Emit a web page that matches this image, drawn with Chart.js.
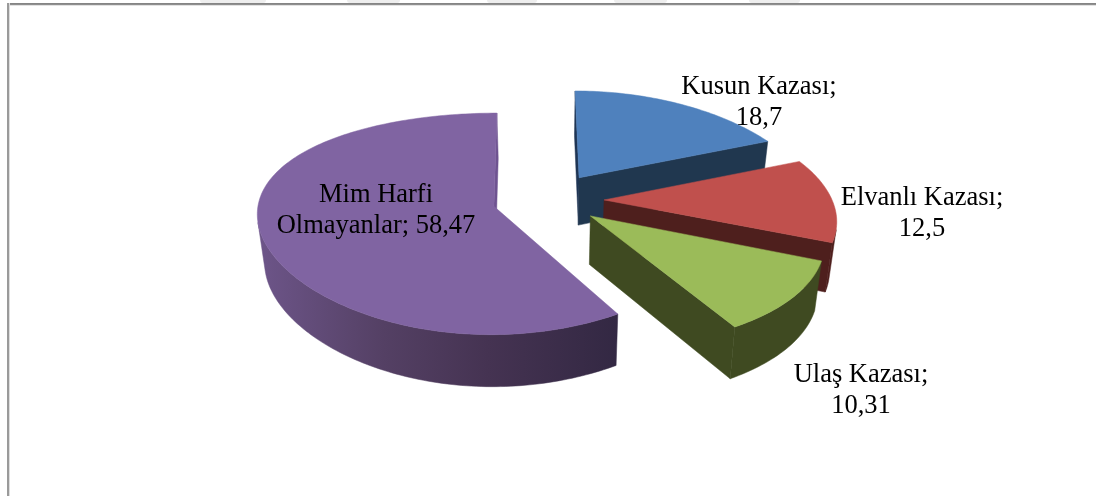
<!DOCTYPE html>
<html><head><meta charset="utf-8">
<style>
html,body{margin:0;padding:0;background:#fff;width:1096px;height:496px;overflow:hidden}
#wrap{position:relative;width:1096px;height:496px}
canvas{position:absolute;left:0;top:0}
.frameTop{position:absolute;left:7px;top:3px;width:1089px;height:1px;background:#858585;box-shadow:0 1px 0 #8f8f8f,0 2px 0 #e2e2e2}
.frameLeft{position:absolute;left:7px;top:3px;width:2px;height:493px;background:#9a9a9a;box-shadow:1px 0 0 #dedede}
.blob{position:absolute;top:0;height:3px;background:#eeeeee;border-radius:0 0 8px 8px}
</style></head>
<body>
<div id="wrap">
<div class="blob" style="left:200px;width:66px"></div>
<div class="blob" style="left:347px;width:53px"></div>
<div class="blob" style="left:487px;width:50px"></div>
<div class="blob" style="left:614px;width:53px"></div>
<div class="blob" style="left:749px;width:51px"></div>
<div class="frameTop"></div><div class="frameLeft"></div>
<canvas id="c" width="1096" height="496"></canvas>
</div>
<script src="https://cdn.jsdelivr.net/npm/chart.js@4/dist/chart.umd.js"></script>
<script>
const categories = ["Kusun Kazası", "Elvanlı Kazası", "Ulaş Kazası", "Mim Harfi Olmayanlar"];
const values = [18.7, 12.5, 10.31, 58.47];
const topColors = ["#4F81BD", "#C0504D", "#9BBB59", "#8064A2"];
const wallColors = ["#20374F", "#4E1F1D", "#3F4A21", "#352945"];
const sideColors = ["#1E3554", "#4E1F1D", "#3F4A21", "#6E5390"];
const explode = [50, 50, 50, 50];
// label centre x, first baseline y, wrap width
const labelSpots = [[759, 94, 175], [922, 205, 180], [861, 382, 160], [376, 202, 210]];

// tilted view of the pie plane
const P = {xc: 548, Ae: 250, y0: 200, B: 106, g: 0.157};
const rimGain = [226, 228, 228, 236];     // horizontal radius per slice
const rimPersp = [0.25, 0.2, 0.23, 0.06]; // foreshortening of that radius
const rimShear = [-0.0175, 0, 0, 0.0126];
const sliceLift = [-3, 0, 0, 0];
function projY(Y) { return P.y0 - P.B * Y / (1 + P.g * Y); }
function lower(p) { return [550 + (p[0] - 550) * 0.975, p[1] + 42 + 0.03 * p[1]]; }
function poly(ctx, pts, fill) {
  ctx.beginPath();
  pts.forEach((p, i) => i ? ctx.lineTo(p[0], p[1]) : ctx.moveTo(p[0], p[1]));
  ctx.closePath();
  ctx.fillStyle = fill; ctx.strokeStyle = fill; ctx.lineWidth = 0.5;
  ctx.fill(); ctx.stroke();
}
function area(q) {
  let s = 0;
  for (let i = 0; i < q.length; i++) { const a = q[i], b = q[(i + 1) % q.length]; s += a[0] * b[1] - b[0] * a[1]; }
  return s / 2;
}

// Arc elements keep the library's angles, radius and offset; only the painting is tilted.
Chart.ArcElement.prototype.draw = function (ctx) {
  const i = this.$context.dataIndex, r = this.outerRadius, e = this.options.offset / r;
  const a0 = this.startAngle, a1 = this.endAngle, mid = (a0 + a1) / 2;
  const ox = e * Math.cos(mid), oy = -e * Math.sin(mid);
  const ax = P.xc + P.Ae * ox, lift = sliceLift[i];
  const apex = [ax, projY(oy) + lift], rim = [];
  const n = Math.max(8, Math.ceil((a1 - a0) / 0.02));
  for (let k = 0; k <= n; k++) {
    const a = a0 + (a1 - a0) * k / n, dX = Math.cos(a), dY = -Math.sin(a);
    rim.push([ax + rimGain[i] * (dX / (1 + rimPersp[i] * dY) + rimShear[i] * dY), projY(oy + dY) + lift]);
  }
  const low = rim.map(lower), apexLow = lower(apex);
  let wall = wallColors[i];
  if (i === 3) {
    wall = ctx.createLinearGradient(258, 0, 617, 0);
    wall.addColorStop(0, "#6D5589");
    wall.addColorStop(0.35, "#544064");
    wall.addColorStop(0.64, "#453352");
    wall.addColorStop(1, "#332843");
  }
  // side faces, skipping those that look away from the viewer
  const q0 = [apex, rim[0], low[0], apexLow];
  const q1 = [rim[n], apex, apexLow, low[n]];
  if (area(q0) < 0) poly(ctx, q0, sideColors[i]);
  if (area(q1) < 0) poly(ctx, q1, i === 3 ? sideColors[i] : wallColors[i]);
  let run = null;
  const flush = (end) => {
    if (run !== null) {
      const up = rim.slice(run, end + 1), dn = low.slice(run, end + 1).reverse();
      poly(ctx, up.concat(dn), wall);
    }
    run = null;
  };
  for (let k = 0; k < n; k++) {
    const front = area([rim[k], rim[k + 1], low[k + 1], low[k]]) < 0;
    if (front && run === null) run = k;
    if (!front) flush(k);
  }
  flush(n);
  poly(ctx, [apex].concat(rim), this.options.backgroundColor);
};

const labelPlugin = {
  id: "sliceLabels",
  afterDraw(chart) {
    const ctx = chart.ctx;
    ctx.save();
    ctx.font = "26.5px 'Liberation Serif'";
    ctx.fillStyle = "#000";
    ctx.textAlign = "center";
    ctx.textBaseline = "alphabetic";
    categories.forEach((cat, i) => {
      const text = cat + "; " + String(values[i]).replace(".", ",");
      const [x, y, w] = labelSpots[i];
      const lines = [];
      let line = "";
      text.split(" ").forEach(word => {
        const t = line ? line + " " + word : word;
        if (ctx.measureText(t).width > w && line) { lines.push(line); line = word; } else line = t;
      });
      lines.push(line);
      lines.forEach((l, j) => ctx.fillText(l, x, y + j * 30.5));
    });
    ctx.restore();
  }
};

new Chart(document.getElementById("c"), {
  type: "doughnut",
  data: {
    labels: categories,
    datasets: [{ data: values, backgroundColor: topColors, borderWidth: 0, offset: explode }]
  },
  options: {
    responsive: false,
    animation: false,
    cutout: 0,
    plugins: { legend: { display: false }, tooltip: { enabled: false } }
  },
  plugins: [labelPlugin]
});
</script>
</body></html>
